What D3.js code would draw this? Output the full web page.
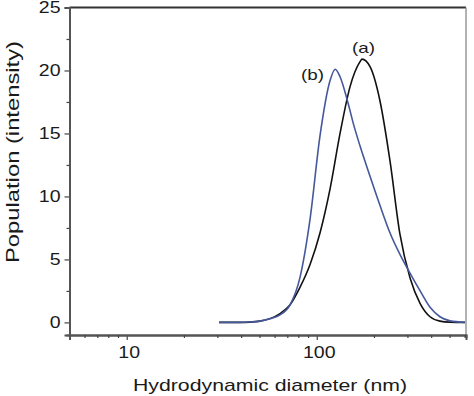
<!DOCTYPE html>
<html lang="en">
<head>
<meta charset="utf-8">
<title>DLS size distribution</title>
<script src="https://d3js.org/d3.v7.min.js"></script>
<style>
  body { margin: 0; background: #fff; }
  text { font-family: Arial, "Liberation Sans", sans-serif; fill: #1a1a1a; }
</style>
</head>
<body>
<svg id="chart" width="474" height="396"></svg>
<script>
// hydrodynamic diameter (nm) and population (intensity)
var diamA = [30.6, 39.5, 44.6, 50.3, 56.8, 64.1, 72.4, 81.7, 92.2, 104, 117.5, 132.6, 149.6, 169, 173, 190.7, 215, 243, 274, 310, 350, 394.6, 445, 503, 603];
var intensA = [0, 0, 0.02, 0.1, 0.3, 0.7, 1.4, 2.8, 4.6, 7.1, 10.6, 15.0, 18.7, 20.7, 20.9, 20.3, 17.6, 12.8, 7.0, 3.5, 1.5, 0.45, 0.1, 0.02, 0];

var diamB = [30.6, 39.5, 44.6, 50.3, 56.8, 64.1, 72.4, 81.7, 92.2, 104, 117.5, 125, 132.6, 145, 157, 169, 190.7, 215, 243, 274, 310, 350, 394.6, 445, 503, 603];
var intensB = [0, 0, 0.03, 0.1, 0.3, 0.6, 1.4, 3.6, 8.2, 14.8, 19.2, 20.1, 19.5, 17.6, 15.6, 14.0, 11.6, 9.3, 7.1, 5.4, 3.9, 2.5, 1.2, 0.45, 0.12, 0];

var seriesNames = ["(a)", "(b)"];
var seriesColors = ["#111111", "#45589c"];

var xMajor = [10, 100];
var xMinor = [6, 7, 8, 9, 20, 30, 40, 50, 60, 70, 80, 90, 200, 300, 400, 500, 600];
var yMajor = [0, 5, 10, 15, 20, 25];
var yMinor = [2.5, 7.5, 12.5, 17.5, 22.5];

var svg = d3.select("#chart");

var plotLeft = 69.5, plotRight = 466, plotTop = 7.5, plotBottom = 335;
var stretch = 1.22;   // the figure's lettering is a little wider than plain Arial

var x = d3.scaleLog().domain([5, 610]).range([plotLeft, plotRight]);
var y = d3.scaleLinear().domain([-1, 25]).range([plotBottom, plotTop]);

// frame: top and right edges
svg.append("line").attr("x1", plotLeft).attr("x2", plotRight).attr("y1", plotTop).attr("y2", plotTop)
  .attr("stroke", "#333").attr("stroke-width", 2);
svg.append("line").attr("x1", plotRight).attr("x2", plotRight).attr("y1", plotTop).attr("y2", plotBottom)
  .attr("stroke", "#999").attr("stroke-width", 1.5);

// x axis
var gx = svg.append("g").attr("transform", "translate(0," + plotBottom + ")");
gx.call(d3.axisBottom(x).tickValues(xMajor).tickFormat(d3.format("d")).tickSize(5).tickPadding(7));
gx.append("g").call(d3.axisBottom(x).tickValues(xMinor).tickFormat("").tickSize(3));

// y axis
var gy = svg.append("g").attr("transform", "translate(" + plotLeft + ",0)");
gy.call(d3.axisLeft(y).tickValues(yMajor).tickSize(5).tickPadding(4));
gy.append("g").call(d3.axisLeft(y).tickValues(yMinor).tickFormat("").tickSize(3));

svg.selectAll(".domain").attr("stroke", "#555").attr("stroke-width", 2);
svg.selectAll(".tick line").attr("stroke", "#444").attr("stroke-width", 1.2);
svg.selectAll(".tick text")
  .attr("font-size", 16)
  .attr("fill", "#1a1a1a")
  .attr("font-family", "Arial, 'Liberation Sans', sans-serif")
  .attr("lengthAdjust", "spacingAndGlyphs")
  .attr("textLength", function() { return this.textContent.length * 0.556 * 16 * stretch; });
gx.selectAll(".tick text").attr("dx", 2);

// axis titles
svg.append("text").attr("x", 270).attr("y", 391).attr("text-anchor", "middle")
  .attr("font-size", 17).attr("textLength", 274).attr("lengthAdjust", "spacingAndGlyphs")
  .text("Hydrodynamic diameter (nm)");
svg.append("text").attr("transform", "translate(19,152) rotate(-90)").attr("text-anchor", "middle")
  .attr("font-size", 19).attr("textLength", 222).attr("lengthAdjust", "spacingAndGlyphs")
  .text("Population (intensity)");

// curves
var line = d3.line()
  .x(function(d) { return x(d[0]); })
  .y(function(d) { return y(d[1]); })
  .curve(d3.curveMonotoneX);

var series = [d3.zip(diamA, intensA), d3.zip(diamB, intensB)];
svg.selectAll("path.curve")
  .data(series)
  .enter()
  .append("path")
  .attr("class", "curve")
  .attr("d", line)
  .attr("fill", "none")
  .attr("stroke", function(d, i) { return seriesColors[i]; })
  .attr("stroke-width", 1.6);

// curve labels near the peaks
svg.append("text").attr("x", x(176)).attr("y", y(20.9) - 6).attr("text-anchor", "middle")
  .attr("font-size", 15).attr("textLength", 23).attr("lengthAdjust", "spacingAndGlyphs")
  .text(seriesNames[0]);
svg.append("text").attr("x", x(95)).attr("y", y(20.1) + 11).attr("text-anchor", "middle")
  .attr("font-size", 15).attr("textLength", 23).attr("lengthAdjust", "spacingAndGlyphs")
  .text(seriesNames[1]);
</script>
</body>
</html>
